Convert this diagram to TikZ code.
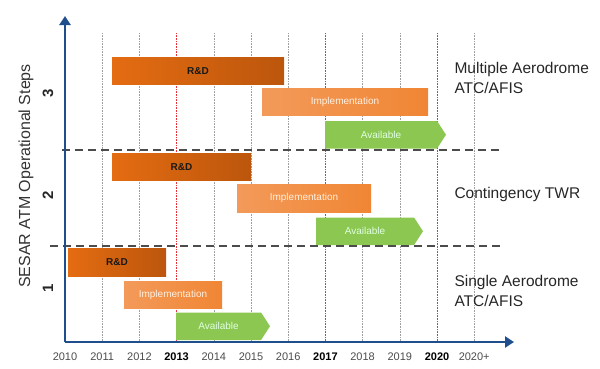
\documentclass[tikz,border=0pt]{standalone}
\usepackage{fontspec}
\setmainfont{Liberation Sans}
\usepackage{tikz}
\usetikzlibrary{arrows.meta,shapes.symbols}

\definecolor{axisblue}{HTML}{1F4E8C}
\definecolor{rdleft}{HTML}{E46C12}
\definecolor{rdright}{HTML}{BC560C}
\definecolor{implleft}{HTML}{F39A5A}
\definecolor{implright}{HTML}{F08634}
\definecolor{availgreen}{HTML}{8CC751}
\definecolor{gridgray}{HTML}{A0A0A0}
\definecolor{gridred}{HTML}{E8333A}

\tikzset{
  axisline/.style={axisblue, line width=2.4pt, -{Triangle[length=9pt,width=11pt]}},
  gridline/.style={gridgray, densely dotted, line width=0.6pt},
  redline/.style={gridred, densely dotted, line width=0.6pt},
  stepsep/.style={black!70, dash pattern=on 8pt off 5pt, line width=1.1pt},
  bar/.style={anchor=north west, inner sep=0pt, outer sep=0pt, minimum height=27.5pt},
  rdbar/.style={bar, left color=rdleft, right color=rdright, text=black!90, font=\fontsize{10}{12}\selectfont\bfseries},
  implbar/.style={bar, left color=implleft, right color=implright, text=white!88!orange, font=\fontsize{10}{12}\selectfont},
  availbar/.style={bar, signal, signal to=east, signal from=nowhere, signal pointer angle=114, fill=availgreen, text=white!88!green, font=\fontsize{10}{12}\selectfont},
  year/.style={text=black!70, font=\fontsize{11}{13}\selectfont},
  boldyear/.style={text=black, font=\fontsize{11}{13}\selectfont\bfseries},
  stepnum/.style={rotate=90, text=black!85, font=\fontsize{15}{17}\selectfont\bfseries},
  steplabel/.style={anchor=west, align=left, text=black!85, font=\fontsize{15.5}{20}\selectfont},
}

\begin{document}
\begin{tikzpicture}[x=1pt, y=-1pt]
\useasboundingbox (0,0) rectangle (600,368);

% Grid
\draw[gridline] (102.2,33) -- (102.2,342);
\draw[gridline] (139.4,33) -- (139.4,342);
\draw[redline] (176.6,33) -- (176.6,342);
\draw[gridline] (213.8,33) -- (213.8,342);
\draw[gridline] (251.0,33) -- (251.0,342);
\draw[gridline] (288.2,33) -- (288.2,342);
\draw[redline] (325.4,33) -- (325.4,342);
\draw[gridline] (362.6,33) -- (362.6,342);
\draw[gridline] (399.8,33) -- (399.8,342);
\draw[redline] (437.0,33) -- (437.0,342);
\draw[gridline] (474.2,33) -- (474.2,342);

% Step 3
\node[rdbar, minimum width=172pt] (rd3) at (112,57) {R\&D};
\node[implbar, minimum width=166pt] (impl3) at (262,88) {Implementation};
\node[availbar, minimum width=121pt] (avail3) at (325,121) {Available};

% Step 2
\node[rdbar, minimum width=139pt] (rd2) at (112,153) {R\&D};
\node[implbar, minimum width=134pt] (impl2) at (237,184.5) {Implementation};
\node[availbar, minimum width=107pt] (avail2) at (316,217.5) {Available};

% Step 1
\node[rdbar, minimum width=98pt] (rd1) at (68,248.5) {R\&D};
\node[implbar, minimum width=98pt] (impl1) at (124,281) {Implementation};
\node[availbar, minimum width=94pt] (avail1) at (176,312.5) {Available};

% Separators
\draw[stepsep] (62,150) -- (500,150);
\draw[stepsep] (50,246) -- (500,246);

% Axes
\coordinate (origin) at (65,342);
\coordinate (ytip) at (65,16);
\coordinate (xtip) at (514,342);
\draw[axisline] (origin) -- (ytip);
\draw[axisline] (origin) -- (xtip);

% Years
\node[year] (y2010) at (65.0,357) {2010};
\node[year] (y2011) at (102.2,357) {2011};
\node[year] (y2012) at (139.4,357) {2012};
\node[boldyear] (y2013) at (176.6,357) {2013};
\node[year] (y2014) at (213.8,357) {2014};
\node[year] (y2015) at (251.0,357) {2015};
\node[year] (y2016) at (288.2,357) {2016};
\node[boldyear] (y2017) at (325.4,357) {2017};
\node[year] (y2018) at (362.6,357) {2018};
\node[year] (y2019) at (399.8,357) {2019};
\node[boldyear] (y2020) at (437.0,357) {2020};
\node[year] (y2020p) at (474.2,357) {2020+};

% Labels
\node[rotate=90, text=black!80, font=\fontsize{16}{18}\selectfont] (title) at (26,176) {SESAR ATM Operational Steps};
\node[stepnum] (num3) at (48,93) {3};
\node[stepnum] (num2) at (48,195) {2};
\node[stepnum] (num1) at (48,288) {1};
\node[steplabel] (lab3) at (451,78) {Multiple Aerodrome\\ATC/AFIS};
\node[steplabel] (lab2) at (451,194) {Contingency TWR};
\node[steplabel] (lab1) at (451,291) {Single Aerodrome\\ATC/AFIS};
\end{tikzpicture}
\end{document}
